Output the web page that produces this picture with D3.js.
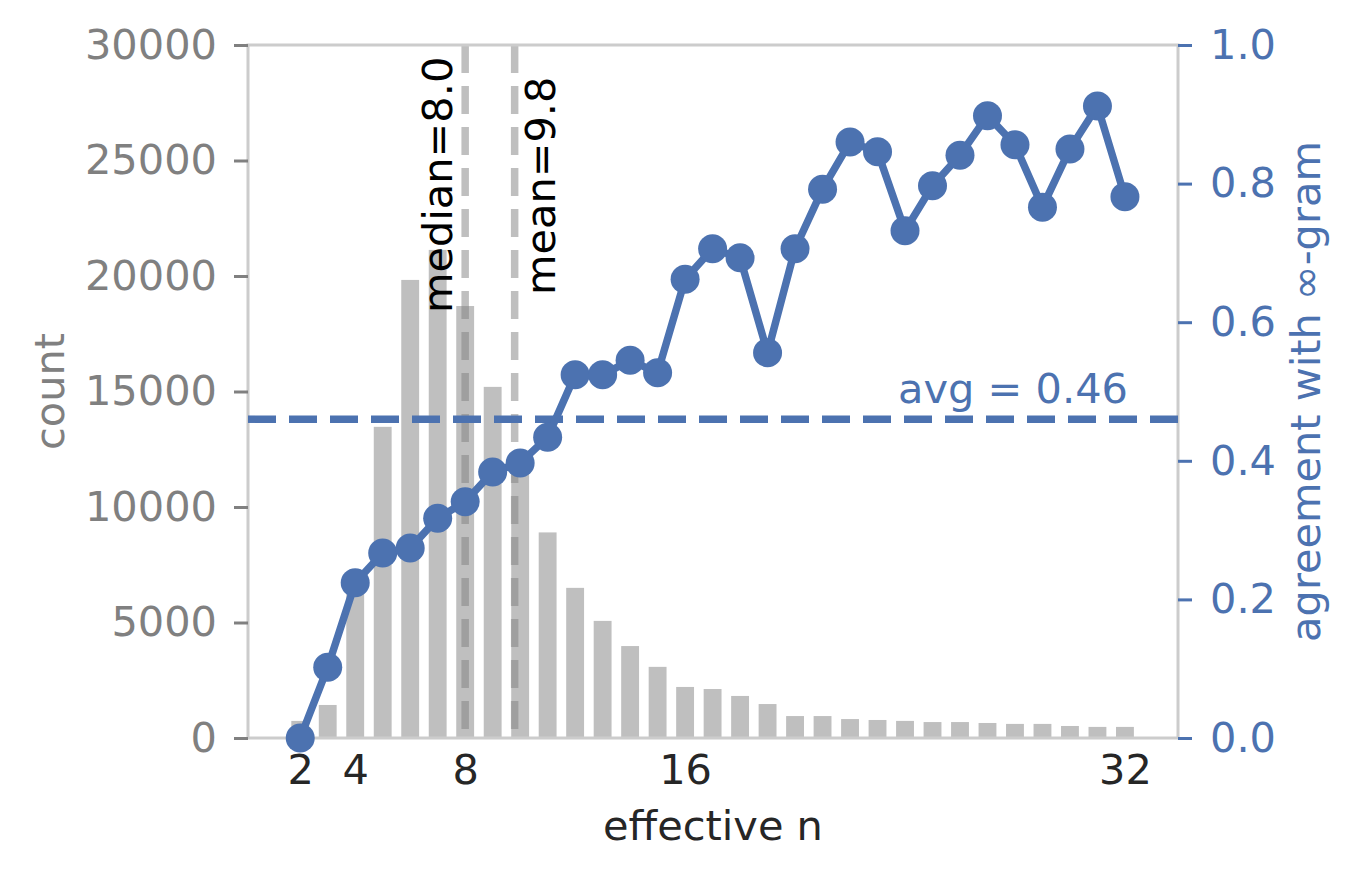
<!DOCTYPE html>
<html>
<head>
<meta charset="utf-8">
<script src="https://cdn.jsdelivr.net/npm/d3@7"></script>
<style>
  body { margin: 0; background: #fff; }
  text { font-family: "DejaVu Sans", sans-serif; }
</style>
</head>
<body>
<svg id="chart" width="1360" height="879"></svg>
<script>
// effective n, 2..32
var ns = d3.range(2, 33)
var counts = [740, 1430, 6500, 13470, 19830, 21130, 18700, 15200, 12000, 8900,
              6500, 5070, 3980, 3080, 2210, 2120, 1820, 1470, 950, 950,
              820, 780, 740, 690, 690, 650, 610, 610, 520, 480, 480]
var agreement = [0.0, 0.102, 0.224, 0.267, 0.274, 0.317, 0.341, 0.384, 0.397, 0.434,
                 0.524, 0.524, 0.545, 0.527, 0.662, 0.706, 0.693, 0.556, 0.706, 0.792,
                 0.860, 0.846, 0.732, 0.797, 0.841, 0.898, 0.856, 0.766, 0.850, 0.912, 0.781]
var x_ticks = [2, 4, 8, 16, 32]
var count_ticks = [0, 5000, 10000, 15000, 20000, 25000, 30000]
var agree_ticks = [0, 0.2, 0.4, 0.6, 0.8, 1.0]
var median_n = 8.0
var mean_n = 9.8
var avg_agree = 0.46

// NOTE: can't use `top` at top level (window.top)
var plot_l = 248, plot_r = 1178, plot_t = 45, plot_b = 738
var blue = '#4c72b0'
var bar_width = 0.65
var font_size = '41.5px'

var svg = d3.select('#chart')

var x = d3.scaleLinear().domain([0.1, 33.93]).range([plot_l, plot_r])
var y_count = d3.scaleLinear().domain([0, 30000]).range([plot_b, plot_t])
var y_agree = d3.scaleLinear().domain([0, 1]).range([plot_b, plot_t])

// bars
svg.append('g').selectAll('rect')
    .data(counts)
    .enter().append('rect')
        .attr('x', function(d, i) { return x(ns[i] - bar_width/2) })
        .attr('width', x(bar_width) - x(0))
        .attr('y', function(d) { return y_count(d) })
        .attr('height', function(d) { return y_count(0) - y_count(d) })
        .style('fill', '#bfbfbf')

// median / mean lines
svg.append('g').selectAll('line')
    .data([median_n, mean_n])
    .enter().append('line')
        .attr('x1', function(d) { return x(d) }).attr('x2', function(d) { return x(d) })
        .attr('y1', plot_t).attr('y2', plot_b)
        .style('stroke', 'rgba(128,128,128,0.5)')
        .style('stroke-width', 7.5)
        .style('stroke-dasharray', '28,13')

// spines
svg.append('rect')
    .attr('x', plot_l).attr('y', plot_t)
    .attr('width', plot_r - plot_l).attr('height', plot_b - plot_t)
    .style('stroke', '#cccccc').style('stroke-width', 3).style('fill', 'none')

// avg line
svg.append('line')
    .attr('x1', plot_l).attr('x2', plot_r)
    .attr('y1', y_agree(avg_agree)).attr('y2', y_agree(avg_agree))
    .style('stroke', blue)
    .style('stroke-width', 7.5)
    .style('stroke-dasharray', '28,13')

// agreement line
var line = d3.line()
    .x(function(d, i) { return x(ns[i]) })
    .y(function(d) { return y_agree(d) })
svg.append('path')
    .datum(agreement)
    .attr('d', line)
    .style('fill', 'none')
    .style('stroke', blue)
    .style('stroke-width', 7.5)
    .style('stroke-linejoin', 'round')
svg.append('g').selectAll('circle')
    .data(agreement)
    .enter().append('circle')
        .attr('cx', function(d, i) { return x(ns[i]) })
        .attr('cy', function(d) { return y_agree(d) })
        .attr('r', 14.5)
        .style('fill', blue)

// axes
var ax_left = svg.append('g')
    .attr('transform', 'translate(' + plot_l + ',0)')
    .call(d3.axisLeft(y_count).tickValues(count_ticks).tickSize(14).tickPadding(17).tickFormat(d3.format('d')))
ax_left.select('.domain').remove()
ax_left.selectAll('line').style('stroke', '#808080').style('stroke-width', 3)
ax_left.selectAll('text').style('fill', '#808080').style('font-size', font_size).style('font-family', 'DejaVu Sans')

var ax_right = svg.append('g')
    .attr('transform', 'translate(' + plot_r + ',0)')
    .call(d3.axisRight(y_agree).tickValues(agree_ticks).tickSize(14).tickPadding(18).tickFormat(d3.format('.1f')))
ax_right.select('.domain').remove()
ax_right.selectAll('line').style('stroke', blue).style('stroke-width', 3)
ax_right.selectAll('text').style('fill', blue).style('font-size', font_size).style('font-family', 'DejaVu Sans')

var ax_bottom = svg.append('g')
    .attr('transform', 'translate(0,' + plot_b + ')')
    .call(d3.axisBottom(x).tickValues(x_ticks).tickSize(0).tickPadding(17))
ax_bottom.select('.domain').remove()
ax_bottom.selectAll('text').style('fill', '#262626').style('font-size', font_size).style('font-family', 'DejaVu Sans')

// labels
svg.append('text')
    .attr('x', (plot_l + plot_r)/2).attr('y', 840)
    .attr('text-anchor', 'middle')
    .style('font-size', font_size).style('fill', '#262626')
    .text('effective n')
svg.append('text')
    .attr('transform', 'translate(64,' + (plot_t + plot_b)/2 + ') rotate(-90)')
    .attr('text-anchor', 'middle')
    .style('font-size', font_size).style('fill', '#808080')
    .text('count')
svg.append('text')
    .attr('transform', 'translate(1320,' + (plot_t + plot_b)/2 + ') rotate(-90)')
    .attr('text-anchor', 'middle')
    .style('font-size', font_size).style('fill', blue)
    .text('agreement with ∞-gram')

svg.append('text')
    .attr('transform', 'translate(' + (x(median_n) - 13) + ',313) rotate(-90)')
    .style('font-size', font_size).style('fill', '#000')
    .text('median=' + median_n.toFixed(1))
svg.append('text')
    .attr('transform', 'translate(' + (x(mean_n) + 40) + ',295) rotate(-90)')
    .style('font-size', font_size).style('fill', '#000')
    .text('mean=' + mean_n.toFixed(1))

svg.append('text')
    .attr('x', 1128).attr('y', 403)
    .attr('text-anchor', 'end')
    .style('font-size', font_size).style('fill', blue)
    .text('avg = ' + avg_agree.toFixed(2))
</script>
</body>
</html>
